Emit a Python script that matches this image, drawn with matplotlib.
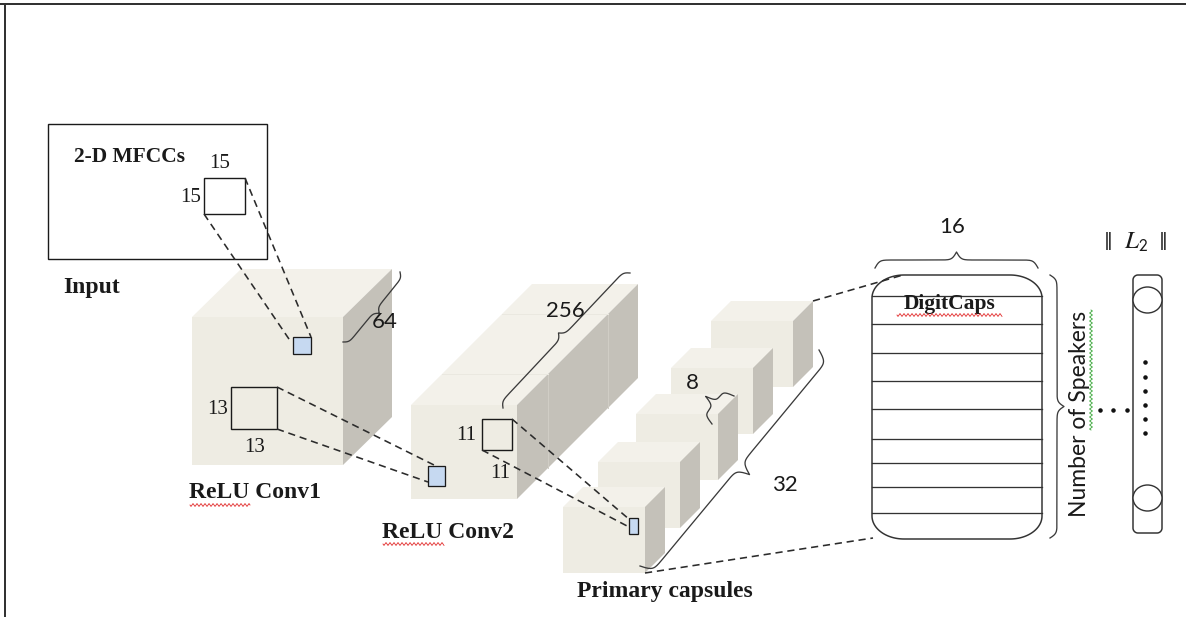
import numpy as np
import matplotlib
matplotlib.use("Agg")
import matplotlib.pyplot as plt
from matplotlib.patches import Polygon, Rectangle, Ellipse

plt.rcParams['mathtext.fontset'] = 'stix'

# ---------------- content ----------------
input_title = "2-D MFCCs"
layer_labels = ["Input", "ReLU Conv1", "ReLU Conv2", "Primary capsules"]
digit_label = "DigitCaps"
kernel_labels = ["15", "13", "11"]
channel_labels = ["64", "256"]
capsule_dim_label = "8"
capsule_maps_label = "32"
digit_dim_label = "16"
speakers_label = "Number of Speakers"
norm_bar = "‖"
norm_symbol = r"$L_{\mathsf{2}}$"

# ---------------- geometry (pixel units) ----------------
W, H = 1186, 617
input_box = (48, 124, 267, 259)            # x0, y0, x1, y1
k15_box = (204, 178, 245, 214)
conv1 = dict(x=192, y=317, w=151, h=148, dx=49, dy=48)
conv2 = dict(x=411, y=405, w=106, h=94, dx=121, dy=121)
conv2_dividers = [0.26, 0.75]
caps_corners = [(711, 321), (671, 368), (636, 414), (598, 462), (563, 507)]  # back -> front
caps_size = dict(w=82, h=66, dx=20, dy=20)
k13_box = (231, 387, 277, 429)
k11_box = (482, 419, 512, 450)
blue1 = (293, 337, 311, 354)
blue2 = (428, 466, 445, 486)
blue3 = (629, 518, 638, 534)
digit_box = (872, 275, 1042, 539)
digit_rows = [296, 324, 353, 381, 409, 439, 463, 487, 513]
l2_box = (1133, 275, 1162, 533)
l2_ellipses = [300, 498]
h_dots_x = [1100, 1113, 1127]
v_dots_y = [362, 377, 391, 405, 419, 433]

FRONT = '#EEECE3'
TOP = '#F3F1EA'
SIDE = '#C4C1B9'
BLUE = '#C6D9F1'
INK = '#1a1a1a'
DASH = '#2b2b2b'

fig = plt.figure(figsize=(W / 100, H / 100), dpi=100)
ax = fig.add_axes([0, 0, 1, 1])
ax.set_xlim(0, W)
ax.set_ylim(H, 0)
ax.axis('off')

PX = 0.72  # points per pixel
TZ = 20    # text zorder

# frame
ax.plot([0, W], [4, 4], color='#333333', lw=2 * PX, solid_capstyle='butt')
ax.plot([5, 5], [4, H], color='#333333', lw=2 * PX, solid_capstyle='butt')


def cube(x, y, w, h, dx, dy, z=1):
    ax.add_patch(Rectangle((x, y), w, h, facecolor=FRONT, edgecolor='none', zorder=z))
    ax.add_patch(Polygon([(x, y), (x + w, y), (x + w + dx, y - dy), (x + dx, y - dy)],
                         closed=True, facecolor=TOP, edgecolor='none', zorder=z))
    ax.add_patch(Polygon([(x + w, y), (x + w + dx, y - dy), (x + w + dx, y + h - dy), (x + w, y + h)],
                         closed=True, facecolor=SIDE, edgecolor='none', zorder=z))


def box(b, fc='none', lw=1.4, z=5):
    x0, y0, x1, y1 = b
    ax.add_patch(Rectangle((x0, y0), x1 - x0, y1 - y0, facecolor=fc, edgecolor=INK,
                           lw=lw * PX, zorder=z))


def dashed(p, q, z=6):
    ax.plot([p[0], q[0]], [p[1], q[1]], color=DASH, lw=1.6 * PX, dashes=(4.5, 3), zorder=z)


def brace(p1, p2, amp, toward, beta_px=0.45, lw=1.3, z=6, color='#3a3a3a'):
    p1 = np.array(p1, float)
    p2 = np.array(p2, float)
    L = np.linalg.norm(p2 - p1)
    u = (p2 - p1) / L
    n = np.array([-u[1], u[0]])
    mid = (p1 + p2) / 2
    if np.dot(n, np.array(toward) - mid) < 0:
        n = -n
    t = np.linspace(0, 1, 401)
    half = t[:201]
    b = beta_px * L
    yh = 1 / (1 + np.exp(-b * (half - half[0]))) + 1 / (1 + np.exp(-b * (half - half[-1])))
    y = np.concatenate([yh, yh[-2::-1]]) - 0.5
    pts = p1[None, :] + (t * L)[:, None] * u[None, :] + (amp * y)[:, None] * n[None, :]
    ax.plot(pts[:, 0], pts[:, 1], color=color, lw=lw * PX, zorder=z)


def wavy_h(x0, x1, y, color):
    xs = np.linspace(x0, x1, int((x1 - x0) * 3))
    ys = y + 1.3 * np.sin((xs - x0) * 2 * np.pi / 4.0)
    ax.plot(xs, ys, color=color, lw=0.8 * PX, zorder=TZ + 1)


def wavy_v(x, y0, y1, color):
    ys = np.linspace(y0, y1, int((y1 - y0) * 3))
    xs = x + 1.3 * np.sin((ys - y0) * 2 * np.pi / 4.0)
    ax.plot(xs, ys, color=color, lw=0.8 * PX, zorder=TZ + 1)


SERIF = 'Liberation Serif'
SANS = ['Lato', 'DejaVu Sans']
LBL = 17     # bold serif labels
NUM = 15     # serif kernel numbers
SNUM = 16    # sans numbers


def label(x, y, s, size=LBL, bold=True, family=SERIF, **kw):
    ax.text(x, y, s, fontsize=size, fontweight='bold' if bold else 'normal', family=family,
            ha='center', va='center', color=INK, zorder=TZ, **kw)


# ---------------- Input ----------------
box(input_box, fc='white', lw=1.4)
label(129, 157, input_title, size=15.5)
box(k15_box, fc='white', lw=1.4)
label(220, 163, kernel_labels[0], size=NUM, bold=False)
label(191, 197, kernel_labels[0], size=NUM, bold=False)
label(92, 288, layer_labels[0])

# ---------------- Conv1 ----------------
cube(**conv1, z=1)
brace((343, 342), (400, 272), 10, toward=(385, 322), beta_px=0.5)
label(385, 322, channel_labels[0], size=SNUM, bold=False, family=SANS)
box(blue1, fc=BLUE, lw=1.3)
dashed((k15_box[0], k15_box[3]), (blue1[0] - 2, blue1[1] + 5))
dashed((k15_box[2], k15_box[1]), (blue1[2], blue1[1]))
box(k13_box, fc='none', lw=1.4)
label(218, 410, kernel_labels[1], size=NUM, bold=False)
label(255, 448, kernel_labels[1], size=NUM, bold=False)
label(255, 493, layer_labels[1])
wavy_h(190, 250, 505, '#e02020')

# ---------------- Conv2 ----------------
c2 = conv2
cube(**c2, z=2)
for f in conv2_dividers:
    xs = c2['x'] + c2['w'] + f * c2['dx']
    ys = c2['y'] - f * c2['dy']
    ax.plot([xs, xs], [ys, ys + c2['h']], color='#D0CDC5', lw=1.0 * PX, zorder=3)
    ax.plot([c2['x'] + f * c2['dx'], xs], [ys, ys], color='#EAE8E0', lw=1.0 * PX, zorder=3)
brace((503, 408), (630, 273), 11, toward=(565, 311), beta_px=0.45)
label(565, 311, channel_labels[1], size=SNUM, bold=False, family=SANS)
box(blue2, fc=BLUE, lw=1.3)
dashed((k13_box[2], k13_box[1]), (blue2[0] + 8, blue2[1]))
dashed((k13_box[2], k13_box[3]), (blue2[0], blue2[1] + 16))
box(k11_box, fc='none', lw=1.4)
label(466, 436, kernel_labels[2], size=NUM, bold=False)
label(500, 473, kernel_labels[2], size=NUM, bold=False)
label(448, 532, layer_labels[2])
wavy_h(383, 444, 544, '#e02020')

# ---------------- Primary capsules ----------------
for i, (cx, cy) in enumerate(caps_corners):
    cube(cx, cy, caps_size['w'], caps_size['h'], caps_size['dx'], caps_size['dy'], z=3 + i * 0.01)
box(blue3, fc=BLUE, lw=1.3, z=6)
dashed((k11_box[2], k11_box[1]), (blue3[0] + 1, blue3[1] + 2))
dashed((k11_box[0], k11_box[3]), (blue3[0], blue3[1] + 9))
brace((712, 424), (734, 396), 22, toward=(692, 383), beta_px=0.7)
label(692, 383, capsule_dim_label, size=SNUM, bold=False, family=SANS)
brace((640, 566), (819, 350), 26, toward=(785, 485), beta_px=0.4)
label(785, 485, capsule_maps_label, size=SNUM, bold=False, family=SANS)
label(665, 592, layer_labels[3])

# connections to DigitCaps
front = caps_corners[-1]
back = caps_corners[0]
dashed((back[0] + caps_size['w'] + caps_size['dx'], back[1] - caps_size['dy']), (903, digit_box[1]))
dashed((front[0] + caps_size['w'], front[1] + caps_size['h']), (873, digit_box[3] - 1))


# ---------------- DigitCaps ----------------
def rounded_rect(b, rx, ry, lw=1.4, fc='white', z=5):
    x0, y0, x1, y1 = b
    th = np.linspace(0, np.pi / 2, 30)
    pts = []
    pts += list(zip(x1 - rx + rx * np.sin(th), y0 + ry - ry * np.cos(th)))
    pts += list(zip(x1 - rx + rx * np.cos(th), y1 - ry + ry * np.sin(th)))
    pts += list(zip(x0 + rx - rx * np.sin(th), y1 - ry + ry * np.cos(th)))
    pts += list(zip(x0 + rx - rx * np.cos(th), y0 + ry - ry * np.sin(th)))
    ax.add_patch(Polygon(pts, closed=True, facecolor=fc, edgecolor='#333333', lw=lw * PX, zorder=z))


rounded_rect(digit_box, 32, 23, lw=1.5)
for yy in digit_rows:
    ax.plot([digit_box[0], digit_box[2]], [yy, yy], color='#333333', lw=1.3 * PX, zorder=6)
label(950, 304, digit_label, size=15.5)
wavy_h(897, 1002, 315, '#e02020')
brace((875, 268), (1038, 268), 16, toward=(957, 240), beta_px=0.45)
label(952, 227, digit_dim_label, size=SNUM, bold=False, family=SANS)
brace((1050, 275), (1050, 538), 14, toward=(1070, 410), beta_px=0.45)
label(1080, 414, speakers_label, size=16.5, bold=False, family=SANS, rotation=90)
wavy_v(1091, 310, 430, '#2aa02a')

# dots
ax.scatter(h_dots_x, [410] * len(h_dots_x), s=5, color='#111111', zorder=7)
ax.scatter([1145] * len(v_dots_y), v_dots_y, s=5, color='#111111', zorder=7)

# ---------------- L2 column ----------------
rounded_rect(l2_box, 5, 5, lw=1.5)
for cy in l2_ellipses:
    ax.add_patch(Ellipse((1147.5, cy), 29, 26, facecolor='white', edgecolor='#333333',
                         lw=1.4 * PX, zorder=6))
label(1108, 241, norm_bar, size=13, bold=False, family=['DejaVu Sans'])
label(1163, 241, norm_bar, size=13, bold=False, family=['DejaVu Sans'])
label(1136, 242, norm_symbol, size=18, bold=False, family=SANS)

fig.savefig('out.png', dpi=100)
